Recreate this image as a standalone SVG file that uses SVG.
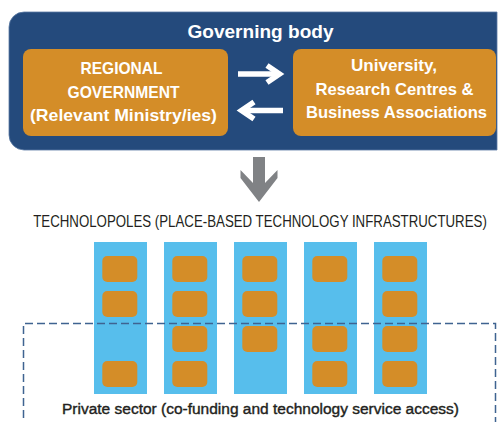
<svg xmlns="http://www.w3.org/2000/svg" width="498" height="422" viewBox="0 0 498 422">
  <style>
    .wt { font-family: "Liberation Sans", Arial, sans-serif; font-weight: bold; fill: #ffffff; text-anchor: middle; }
    .dk { font-family: "Liberation Sans", Arial, sans-serif; fill: #231f20; text-anchor: middle; }
    .org { fill: #d48d28; }
    .col { fill: #57beec; }
    .cell { fill: #d48d28; }
    .warr { fill: none; stroke: #ffffff; stroke-width: 5.5; }
  </style>
  <rect width="498" height="422" fill="#ffffff"/>

  <g id="governing-body">
    <path d="M24,12 H497 V150 H24 A15,15 0 0 1 9,135 V27 A15,15 0 0 1 24,12 Z" fill="#244a7c" stroke="#5a7aa3" stroke-width="0.8"/>
    <text class="wt" x="260.5" y="37.5" font-size="19" textLength="146" lengthAdjust="spacingAndGlyphs">Governing body</text>
  </g>

  <g id="regional-government">
    <rect class="org" x="23" y="49" width="205" height="87" rx="8"/>
    <text class="wt" x="121.5" y="74" font-size="17" textLength="82" lengthAdjust="spacingAndGlyphs">REGIONAL</text>
    <text class="wt" x="123.5" y="97.5" font-size="17" textLength="112" lengthAdjust="spacingAndGlyphs">GOVERNMENT</text>
    <text class="wt" x="123.5" y="121" font-size="17" textLength="187" lengthAdjust="spacingAndGlyphs">(Relevant Ministry/ies)</text>
  </g>

  <g id="university">
    <rect class="org" x="293" y="49" width="203" height="87" rx="8"/>
    <text class="wt" x="394" y="71" font-size="17" textLength="86" lengthAdjust="spacingAndGlyphs">University,</text>
    <text class="wt" x="394.5" y="94.5" font-size="17" textLength="158" lengthAdjust="spacingAndGlyphs">Research Centres &amp;</text>
    <text class="wt" x="396.5" y="118" font-size="17" textLength="181" lengthAdjust="spacingAndGlyphs">Business Associations</text>
  </g>

  <g id="connectors">
    <line class="warr" x1="238" y1="74" x2="279" y2="74"/>
    <polyline class="warr" points="267,65.5 279.5,74 267,82.5"/>
    <line class="warr" x1="283" y1="110.5" x2="242" y2="110.5"/>
    <polyline class="warr" points="254,102 241.5,110.5 254,119"/>
    <polygon fill="#808285" points="253,157 265,157 265,183 277.5,170 277.5,178 259,202 240.5,178 240.5,170 253,183"/>
  </g>

  <g id="technopoles">
    <text class="dk" transform="translate(260,227.3) scale(0.8,1)" x="0" y="0" font-size="16.5" textLength="567" lengthAdjust="spacingAndGlyphs">TECHNOLOPOLES (PLACE-BASED TECHNOLOGY INFRASTRUCTURES)</text>
    <g id="column-1">
      <rect class="col" x="94" y="242" width="53" height="152"/>
      <rect class="cell" x="102.3" y="256" width="35" height="26" rx="5"/>
      <rect class="cell" x="102.3" y="291" width="35" height="26" rx="5"/>
      <rect class="cell" x="102.3" y="361" width="35" height="26" rx="5"/>
    </g>
    <g id="column-2">
      <rect class="col" x="164" y="242" width="53" height="152"/>
      <rect class="cell" x="172.3" y="256" width="35" height="26" rx="5"/>
      <rect class="cell" x="172.3" y="291" width="35" height="26" rx="5"/>
      <rect class="cell" x="172.3" y="326" width="35" height="26" rx="5"/>
      <rect class="cell" x="172.3" y="361" width="35" height="26" rx="5"/>
    </g>
    <g id="column-3">
      <rect class="col" x="234" y="242" width="53" height="152"/>
      <rect class="cell" x="242.3" y="256" width="35" height="26" rx="5"/>
      <rect class="cell" x="242.3" y="291" width="35" height="26" rx="5"/>
      <rect class="cell" x="242.3" y="326" width="35" height="26" rx="5"/>
    </g>
    <g id="column-4">
      <rect class="col" x="304" y="242" width="53" height="152"/>
      <rect class="cell" x="312.3" y="256" width="35" height="26" rx="5"/>
      <rect class="cell" x="312.3" y="326" width="35" height="26" rx="5"/>
      <rect class="cell" x="312.3" y="361" width="35" height="26" rx="5"/>
    </g>
    <g id="column-5">
      <rect class="col" x="374" y="242" width="53" height="152"/>
      <rect class="cell" x="382.3" y="256" width="35" height="26" rx="5"/>
      <rect class="cell" x="382.3" y="291" width="35" height="26" rx="5"/>
      <rect class="cell" x="382.3" y="326" width="35" height="26" rx="5"/>
      <rect class="cell" x="382.3" y="361" width="35" height="26" rx="5"/>
    </g>
  </g>

  <g id="private-sector">
    <path d="M23.5,430 V323.5 H495.5 V430" fill="none" stroke="#3f6391" stroke-width="1.5" stroke-dasharray="8,4"/>
    <text class="dk" x="260.5" y="413.5" font-size="15.5" stroke="#231f20" stroke-width="0.4" textLength="397" lengthAdjust="spacingAndGlyphs">Private sector (co-funding and technology service access)</text>
  </g>
</svg>
